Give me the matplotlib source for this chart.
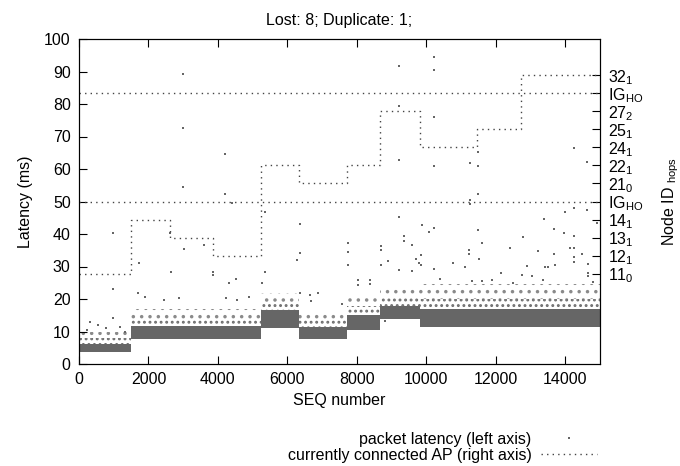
import matplotlib
matplotlib.use("Agg")
import matplotlib.pyplot as plt
from matplotlib.lines import Line2D

plt.rcParams['font.family'] = ['Liberation Sans', 'DejaVu Sans']
plt.rcParams['mathtext.fontset'] = 'custom'
plt.rcParams['mathtext.rm'] = 'Liberation Sans'
plt.rcParams['mathtext.it'] = 'Liberation Sans'
plt.rcParams['hatch.linewidth'] = 1.3

# currently connected AP (right axis index), changes at these SEQ numbers
ap_seq = [0, 1490, 2620, 3870, 5240, 6335, 7725, 8665, 9820, 11470, 12715, 15000]
ap_level = [5, 8, 7, 6, 11, 10, 11, 14, 12, 13, 16, 16]
ig_levels = [9, 15]

# right axis labels (index 5..16)
node_ticks = [5, 6, 7, 8, 9, 10, 11, 12, 13, 14, 15, 16]
node_labels = ['11_0', '12_1', '13_1', '14_1', 'IG_{HO}', '21_0', '22_1', '24_1',
               '25_1', '27_2', 'IG_{HO}', '32_1']

# dense latency band per AP period (ms)
band_seq = [0, 1490, 5240, 6335, 7725, 8665, 9820, 15000]
band_low = [3.6, 7.6, 11.0, 7.6, 10.5, 13.8, 11.3, 11.3]
band_high = [6.2, 11.8, 16.5, 11.5, 15.0, 18.0, 16.8, 16.8]
band_mid = [8.0, 14.0, 19.0, 13.5, 18.0, 21.0, 20.0, 20.0]
band_fringe = [10.0, 17.0, 22.0, 15.5, 21.5, 24.0, 24.5, 24.5]

# isolated packets
out_seq = [3003, 3003, 3003, 4213, 4213, 4396, 5356, 6363, 988,
           9214, 10213, 10213, 9214, 10213, 11498, 14262, 9214, 11258, 11498, 10213,
           14636, 11498, 11258, 11258, 13993, 14262, 14636, 9214, 13398, 9867, 10213,
           10078, 11498, 13686, 13956, 14925,
           2630, 3600, 3014, 1737, 2640, 988, 1700, 1890, 2457, 2890, 988, 326, 557,
           768, 1171, 230, 1325,
           6355, 6277, 3867, 3867, 5356, 4310, 4530, 5260, 4242, 4540, 4886, 6373,
           6660, 6890, 6680,
           7736, 7736, 7736, 9358, 9358, 8687, 8687, 9578, 8907, 8687, 9848, 9700,
           9780, 9850, 9214, 9597, 10231, 10778, 11229, 11229, 8042, 8042, 8370, 8370,
           7563, 10395, 8811,
           12775, 14243, 11612, 11517, 12410, 13225, 13686, 14147, 14243, 14243, 14243,
           14493, 14666, 11114, 12900, 13418, 13496, 13706, 12151, 12747, 13035, 14647,
           14647, 11325, 11595, 11901, 12506, 13370, 14808]
out_lat = [89.2, 72.6, 54.4, 64.5, 52.2, 49.4, 46.9, 43.2, 40.3,
           91.7, 94.6, 90.4, 79.3, 76.0, 65.3, 66.4, 62.8, 61.8, 61.0, 60.9,
           62.2, 52.2, 50.5, 49.1, 46.8, 48.1, 47.4, 45.2, 44.5, 42.8, 41.9,
           40.5, 41.1, 41.4, 40.2, 43.4,
           40.4, 36.6, 35.5, 31.1, 28.3, 23.1, 21.9, 20.7, 19.8, 20.3, 14.2, 12.9, 12.1,
           11.1, 11.3, 10.5, 9.9,
           34.1, 32.0, 28.2, 27.4, 28.4, 25.0, 26.1, 25.0, 20.3, 19.7, 20.6, 21.7,
           21.1, 21.7, 19.4,
           37.1, 34.4, 30.4, 39.5, 37.8, 36.4, 35.1, 36.5, 31.7, 30.5, 33.5, 32.2,
           31.0, 30.5, 28.9, 28.6, 29.2, 31.0, 35.1, 34.0, 25.8, 24.3, 25.8, 24.6,
           18.5, 26.2, 13.3,
           39.0, 39.4, 37.3, 32.3, 35.6, 34.8, 33.8, 35.6, 35.6, 33.0, 31.5,
           33.8, 30.8, 29.9, 30.2, 29.9, 29.9, 30.5, 28.1, 27.5, 27.1, 28.1,
           27.2, 25.5, 25.6, 25.8, 24.8, 25.8, 25.3]

grey = '#666666'
dot_style = (0, (1, 3))

fig = plt.figure(figsize=(6.8, 4.66), dpi=100)
ax = fig.add_axes([79 / 680, 1 - 364 / 466, 521 / 680, 325 / 466])
ax2 = ax.twinx()

# sparse fringe above the dense band
ax.fill_between(band_seq, band_mid, band_fringe, step='post', facecolor='none',
                edgecolor='#8a8a8a', hatch='..', linewidth=0)
ax.fill_between(band_seq, band_high, band_mid, step='post', facecolor='none',
                edgecolor='#6e6e6e', hatch='...', linewidth=0)
ax.fill_between(band_seq, band_low, band_high, step='post', color=grey, linewidth=0)
ax.plot(out_seq, out_lat, 's', color=grey, markersize=1.9, markeredgewidth=0)

ax2.step(ap_seq, ap_level, where='post', color='#444444', linestyle=dot_style, linewidth=1)
for lv in ig_levels:
    ax2.axhline(lv, color='#444444', linestyle=dot_style, linewidth=1)

ax.set_xlim(0, 15000)
ax.set_ylim(0, 100)
ax2.set_ylim(0, 18)
ax.set_xticks(range(0, 15001, 2000))
ax.set_yticks(range(0, 101, 10))
ax2.set_yticks(node_ticks)
ax2.set_yticklabels([r'$\mathregular{' + s + '}$' for s in node_labels])

fs = 11.5
ax.tick_params(axis='x', direction='in', top=True, length=6, labelsize=fs, pad=6)
ax.tick_params(axis='y', direction='in', length=6, labelsize=fs, pad=6)
ax2.tick_params(axis='y', direction='in', length=6, labelsize=fs, pad=6)

ax.set_xlabel('SEQ number', fontsize=fs, labelpad=4)
ax.set_ylabel('Latency (ms)', fontsize=fs, labelpad=8)
ax2.set_ylabel(r'Node ID $_{\mathregular{hops}}$', fontsize=fs, labelpad=12)
ax.set_title('Lost: 8; Duplicate: 1;', fontsize=fs, pad=10)

handles = [Line2D([], [], marker='s', color=grey, linestyle='none', markersize=1.9,
                  markeredgewidth=0),
           Line2D([], [], color='#444444', linestyle=dot_style, linewidth=1)]
fig.legend(handles, ['packet latency (left axis)', 'currently connected AP (right axis)'],
           loc='upper right', bbox_to_anchor=(605 / 680, 1 - 424 / 466), frameon=False,
           markerfirst=False, handlelength=3.5, fontsize=fs, labelspacing=0.05,
           borderpad=0, handletextpad=0.6)

plt.savefig('out.png', dpi=100)
